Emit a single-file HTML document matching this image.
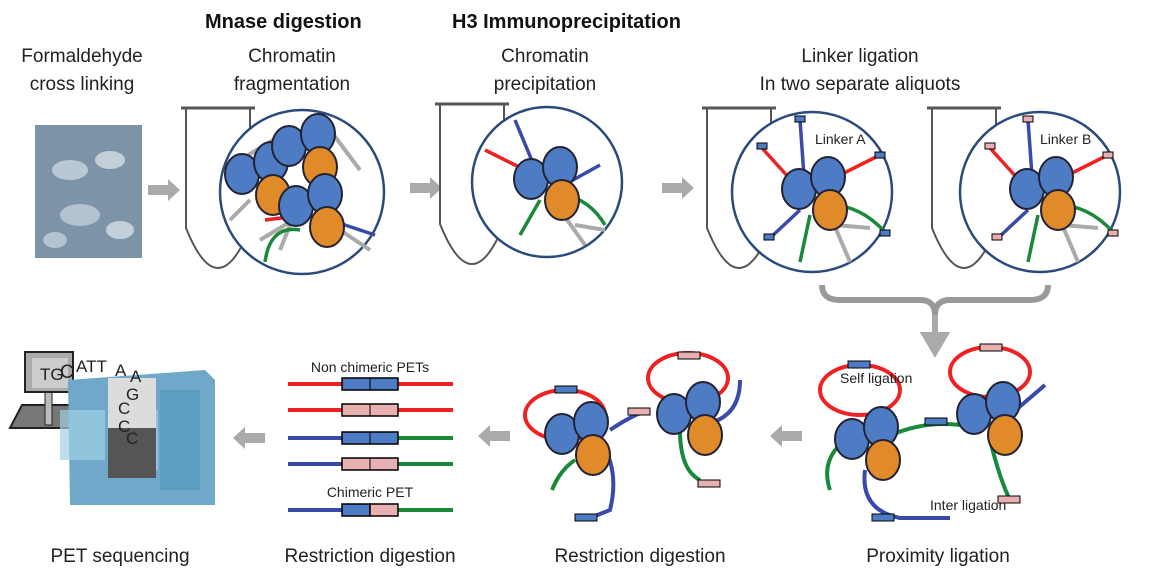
<!DOCTYPE html>
<html><head><meta charset="utf-8"><style>
body{margin:0;background:#fff;}
svg{display:block;font-family:"Liberation Sans",Arial,sans-serif;}
.lbl{font-size:19px;fill:#222;text-anchor:middle;}
.ttl{font-size:20px;font-weight:bold;fill:#111;}
.sm{font-size:14px;fill:#222;}
</style></head><body>
<svg width="1163" height="583" viewBox="0 0 1163 583">
<defs>
<g id="nuc">
<ellipse cx="-16" cy="-6" rx="17" ry="20" fill="#4d7cc4" stroke="#223" stroke-width="2"/>
<ellipse cx="13" cy="-18" rx="17" ry="20" fill="#4d7cc4" stroke="#223" stroke-width="2"/>
<ellipse cx="15" cy="15" rx="17" ry="20" fill="#e08a2a" stroke="#223" stroke-width="2"/>
</g>
<g id="tube">
<path d="M0 0 L0 120 Q32 200 64 120 L64 0" fill="#fff" stroke="#555" stroke-width="2"/>
<line x1="-5" y1="0" x2="69" y2="0" stroke="#555" stroke-width="3"/>
</g>
<g id="arr"><path d="M0 -5 L20 -5 L20 -11 L32 0 L20 11 L20 5 L0 5Z" fill="#aaa"/></g>
<g id="arrl"><path d="M32 -5 L12 -5 L12 -11 L0 0 L12 11 L12 5 L32 5Z" fill="#aaa"/></g>
</defs>

<text class="ttl" x="205" y="28">Mnase digestion</text>
<text class="ttl" x="452" y="28">H3  Immunoprecipitation</text>

<text class="lbl" x="82" y="62">Formaldehyde</text>
<text class="lbl" x="82" y="90">cross linking</text>
<text class="lbl" x="292" y="62">Chromatin</text>
<text class="lbl" x="292" y="90">fragmentation</text>
<text class="lbl" x="545" y="62">Chromatin</text>
<text class="lbl" x="545" y="90">precipitation</text>
<text class="lbl" x="860" y="62">Linker ligation</text>
<text class="lbl" x="860" y="90">In two  separate aliquots</text>

<g>
<rect x="35" y="125" width="107" height="133" fill="#7d94a8"/>
<ellipse cx="70" cy="170" rx="18" ry="10" fill="#b9c8d4"/><ellipse cx="110" cy="160" rx="15" ry="9" fill="#c3d0da"/>
<ellipse cx="80" cy="215" rx="20" ry="11" fill="#b3c3d0"/><ellipse cx="120" cy="230" rx="14" ry="9" fill="#c3d0da"/>
<ellipse cx="55" cy="240" rx="12" ry="8" fill="#b3c3d0"/>
</g>

<use href="#arr" x="148" y="190"/>
<use href="#arr" x="410" y="188"/>
<use href="#arr" x="662" y="188"/>

<g>
<use href="#tube" x="186" y="108"/>
<circle cx="302" cy="192" r="82" fill="#fff" stroke="#2a4a7a" stroke-width="2.5"/>
<path d="M240 160 L290 130 M260 240 L310 210 M330 130 L360 170 M280 250 L300 200 M340 230 L370 250 M250 200 L230 220" stroke="#aaa" stroke-width="4" fill="none"/>
<path d="M318 175 L305 215 L265 220" stroke="#e22" stroke-width="3.5" fill="none"/>
<path d="M300 230 Q270 225 265 262" stroke="#1a8a3a" stroke-width="3.5" fill="none"/>
<path d="M330 220 L375 235" stroke="#3a4aa8" stroke-width="3.5" fill="none"/>
<use href="#nuc" x="258" y="180"/>
<use href="#nuc" x="305" y="152"/>
<use href="#nuc" x="312" y="212"/>
</g>

<g>
<use href="#tube" x="440" y="104"/>
<circle cx="547" cy="182" r="75" fill="#fff" stroke="#2a4a7a" stroke-width="2.5"/>
<path d="M540 180 L515 120" stroke="#3a4aa8" stroke-width="3.5" fill="none"/>
<path d="M535 175 L485 150" stroke="#e22" stroke-width="3.5" fill="none"/>
<path d="M540 200 L520 235" stroke="#1a8a3a" stroke-width="3.5" fill="none"/>
<path d="M565 195 Q590 200 605 225" stroke="#1a8a3a" stroke-width="3.5" fill="none"/>
<path d="M555 190 L600 165" stroke="#3a4aa8" stroke-width="3.5" fill="none"/>
<path d="M560 210 L585 245 M575 225 L605 230" stroke="#aaa" stroke-width="4" fill="none"/>
<use href="#nuc" x="547" y="185"/>
</g>

<g>
<use href="#tube" x="707" y="108"/>
<circle cx="812" cy="192" r="80" fill="#fff" stroke="#2a4a7a" stroke-width="2.5"/>
<path d="M805 190 L800 120" stroke="#3a4aa8" stroke-width="3.5"/>
<path d="M800 190 L762 148" stroke="#e22" stroke-width="3.5"/>
<path d="M830 180 L880 155" stroke="#e22" stroke-width="3.5"/>
<path d="M800 210 L770 238" stroke="#3a4aa8" stroke-width="3.5"/>
<path d="M810 215 L800 262" stroke="#1a8a3a" stroke-width="3.5"/>
<path d="M830 205 Q860 205 885 232" stroke="#1a8a3a" stroke-width="3.5" fill="none"/>
<path d="M830 215 L850 262 M835 225 L870 228" stroke="#aaa" stroke-width="4"/>
<rect x="795" y="116" width="10" height="6" fill="#4d7cc4" stroke="#000"/>
<rect x="757" y="143" width="10" height="6" fill="#4d7cc4" stroke="#000"/>
<rect x="875" y="152" width="10" height="6" fill="#4d7cc4" stroke="#000"/>
<rect x="764" y="234" width="10" height="6" fill="#4d7cc4" stroke="#000"/>
<rect x="880" y="230" width="10" height="6" fill="#4d7cc4" stroke="#000"/>
<text class="sm" x="815" y="144">Linker A</text>
<use href="#nuc" x="815" y="195"/>
</g>

<g>
<use href="#tube" x="932" y="108"/>
<circle cx="1040" cy="192" r="80" fill="#fff" stroke="#2a4a7a" stroke-width="2.5"/>
<path d="M1033 190 L1028 120" stroke="#3a4aa8" stroke-width="3.5"/>
<path d="M1028 190 L990 148" stroke="#e22" stroke-width="3.5"/>
<path d="M1058 180 L1108 155" stroke="#e22" stroke-width="3.5"/>
<path d="M1028 210 L998 238" stroke="#3a4aa8" stroke-width="3.5"/>
<path d="M1038 215 L1028 262" stroke="#1a8a3a" stroke-width="3.5"/>
<path d="M1058 205 Q1088 205 1113 232" stroke="#1a8a3a" stroke-width="3.5" fill="none"/>
<path d="M1058 215 L1078 262 M1063 225 L1098 228" stroke="#aaa" stroke-width="4"/>
<rect x="1023" y="116" width="10" height="6" fill="#e8b0b0" stroke="#000"/>
<rect x="985" y="143" width="10" height="6" fill="#e8b0b0" stroke="#000"/>
<rect x="1103" y="152" width="10" height="6" fill="#e8b0b0" stroke="#000"/>
<rect x="992" y="234" width="10" height="6" fill="#e8b0b0" stroke="#000"/>
<rect x="1108" y="230" width="10" height="6" fill="#e8b0b0" stroke="#000"/>
<text class="sm" x="1040" y="144">Linker B</text>
<use href="#nuc" x="1043" y="195"/>
</g>

<path d="M822 285 Q822 300 840 300 L920 300 Q935 300 935 315 Q935 300 950 300 L1030 300 Q1048 300 1048 285" stroke="#999" stroke-width="6" fill="none"/>
<path d="M935 315 L935 340 M925 335 L935 352 L945 335Z" stroke="#aaa" stroke-width="6" fill="#aaa"/>

<g>
<ellipse cx="860" cy="390" rx="40" ry="25" fill="none" stroke="#e22" stroke-width="4"/>
<ellipse cx="990" cy="372" rx="40" ry="25" fill="none" stroke="#e22" stroke-width="4"/>
<path d="M880 440 Q920 420 960 425" stroke="#1a8a3a" stroke-width="4" fill="none"/>
<path d="M1010 415 L1045 385" stroke="#3a4aa8" stroke-width="4"/>
<path d="M865 470 Q860 510 900 518 L950 518" stroke="#3a4aa8" stroke-width="4" fill="none"/>
<path d="M990 440 Q1000 480 1010 500" stroke="#1a8a3a" stroke-width="4" fill="none"/>
<path d="M845 440 Q820 460 830 490" stroke="#1a8a3a" stroke-width="4" fill="none"/>
<rect x="848" y="361" width="22" height="7" fill="#4d7cc4" stroke="#000"/>
<rect x="980" y="344" width="22" height="7" fill="#e8b0b0" stroke="#000"/>
<rect x="925" y="418" width="22" height="7" fill="#4d7cc4" stroke="#000"/>
<rect x="872" y="514" width="22" height="7" fill="#4d7cc4" stroke="#000"/>
<rect x="998" y="496" width="22" height="7" fill="#e8b0b0" stroke="#000"/>
<use href="#nuc" x="868" y="445"/>
<use href="#nuc" x="990" y="420"/>
<text class="sm" x="840" y="383">Self ligation</text>
<text class="sm" x="930" y="510">Inter ligation</text>
</g>
<text class="lbl" x="938" y="562">Proximity ligation</text>

<use href="#arrl" x="770" y="436"/>

<g>
<ellipse cx="565" cy="415" rx="40" ry="25" fill="none" stroke="#e22" stroke-width="4"/>
<ellipse cx="688" cy="378" rx="40" ry="25" fill="none" stroke="#e22" stroke-width="4"/>
<path d="M575 460 Q560 470 552 490" stroke="#1a8a3a" stroke-width="4" fill="none"/>
<path d="M600 440 Q620 470 610 510 L590 518" stroke="#3a4aa8" stroke-width="4" fill="none"/>
<path d="M680 430 Q680 470 700 480" stroke="#1a8a3a" stroke-width="4" fill="none"/>
<path d="M700 425 Q740 420 740 380" stroke="#3a4aa8" stroke-width="4" fill="none"/>
<path d="M610 430 Q640 410 650 412" stroke="#3a4aa8" stroke-width="4" fill="none"/>
<rect x="555" y="386" width="22" height="7" fill="#4d7cc4" stroke="#000"/>
<rect x="678" y="352" width="22" height="7" fill="#e8b0b0" stroke="#000"/>
<rect x="628" y="408" width="22" height="7" fill="#e8b0b0" stroke="#000"/>
<rect x="575" y="514" width="22" height="7" fill="#4d7cc4" stroke="#000"/>
<rect x="698" y="480" width="22" height="7" fill="#e8b0b0" stroke="#000"/>
<use href="#nuc" x="578" y="440"/>
<use href="#nuc" x="690" y="420"/>
</g>
<text class="lbl" x="640" y="562">Restriction digestion</text>

<use href="#arrl" x="478" y="436"/>

<g>
<text class="sm" x="370" y="372" text-anchor="middle">Non chimeric PETs</text>
<line x1="288" y1="384" x2="453" y2="384" stroke="#e22" stroke-width="4"/>
<rect x="342" y="378" width="56" height="12" fill="#4d7cc4" stroke="#000" stroke-width="1.5"/><line x1="370" y1="378" x2="370" y2="390" stroke="#000"/>
<line x1="288" y1="410" x2="453" y2="410" stroke="#e22" stroke-width="4"/>
<rect x="342" y="404" width="56" height="12" fill="#e8b0b0" stroke="#000" stroke-width="1.5"/><line x1="370" y1="404" x2="370" y2="416" stroke="#000"/>
<line x1="288" y1="438" x2="370" y2="438" stroke="#3a4aa8" stroke-width="4"/><line x1="370" y1="438" x2="453" y2="438" stroke="#1a8a3a" stroke-width="4"/>
<rect x="342" y="432" width="56" height="12" fill="#4d7cc4" stroke="#000" stroke-width="1.5"/><line x1="370" y1="432" x2="370" y2="444" stroke="#000"/>
<line x1="288" y1="464" x2="370" y2="464" stroke="#3a4aa8" stroke-width="4"/><line x1="370" y1="464" x2="453" y2="464" stroke="#1a8a3a" stroke-width="4"/>
<rect x="342" y="458" width="56" height="12" fill="#e8b0b0" stroke="#000" stroke-width="1.5"/><line x1="370" y1="458" x2="370" y2="470" stroke="#000"/>
<text class="sm" x="370" y="497" text-anchor="middle">Chimeric PET</text>
<line x1="288" y1="510" x2="370" y2="510" stroke="#3a4aa8" stroke-width="4"/><line x1="370" y1="510" x2="453" y2="510" stroke="#1a8a3a" stroke-width="4"/>
<rect x="342" y="504" width="28" height="12" fill="#4d7cc4" stroke="#000" stroke-width="1.5"/><rect x="370" y="504" width="28" height="12" fill="#e8b0b0" stroke="#000" stroke-width="1.5"/>
</g>
<text class="lbl" x="370" y="562">Restriction digestion</text>

<use href="#arrl" x="233" y="438"/>

<g>
<path d="M22 405 L70 405 L70 428 L10 428Z" fill="#777" stroke="#222" stroke-width="2"/>
<rect x="45" y="385" width="7" height="40" fill="#bbb" stroke="#222"/>
<rect x="25" y="352" width="48" height="40" fill="#aaa" stroke="#222" stroke-width="2"/>
<rect x="32" y="358" width="36" height="30" fill="#ccc"/>
<path d="M68 380 L205 370 L215 380 L215 505 L70 505Z" fill="#6fa8c8"/>
<rect x="108" y="410" width="50" height="60" fill="#8ec4dc"/>
<rect x="60" y="410" width="45" height="50" fill="#9fd0e6" opacity="0.7"/>
<rect x="108" y="378" width="48" height="50" fill="#dcdcdc"/>
<rect x="108" y="428" width="48" height="50" fill="#555"/>
<rect x="160" y="390" width="40" height="100" fill="#5a9ec2"/>
<text x="40" y="380" font-size="17" fill="#222">TG</text>
<text x="60" y="378" font-size="19" fill="#222">C</text>
<text x="76" y="372" font-size="17" fill="#222">ATT</text>
<text x="115" y="376" font-size="17" fill="#222">A</text>
<text x="130" y="382" font-size="17" fill="#222">A</text>
<text x="126" y="400" font-size="17" fill="#222">G</text>
<text x="118" y="414" font-size="17" fill="#222">C</text>
<text x="118" y="432" font-size="17" fill="#222">C</text>
<text x="126" y="444" font-size="17" fill="#222">C</text>
</g>
<text class="lbl" x="120" y="562">PET sequencing</text>
</svg>
</body></html>
